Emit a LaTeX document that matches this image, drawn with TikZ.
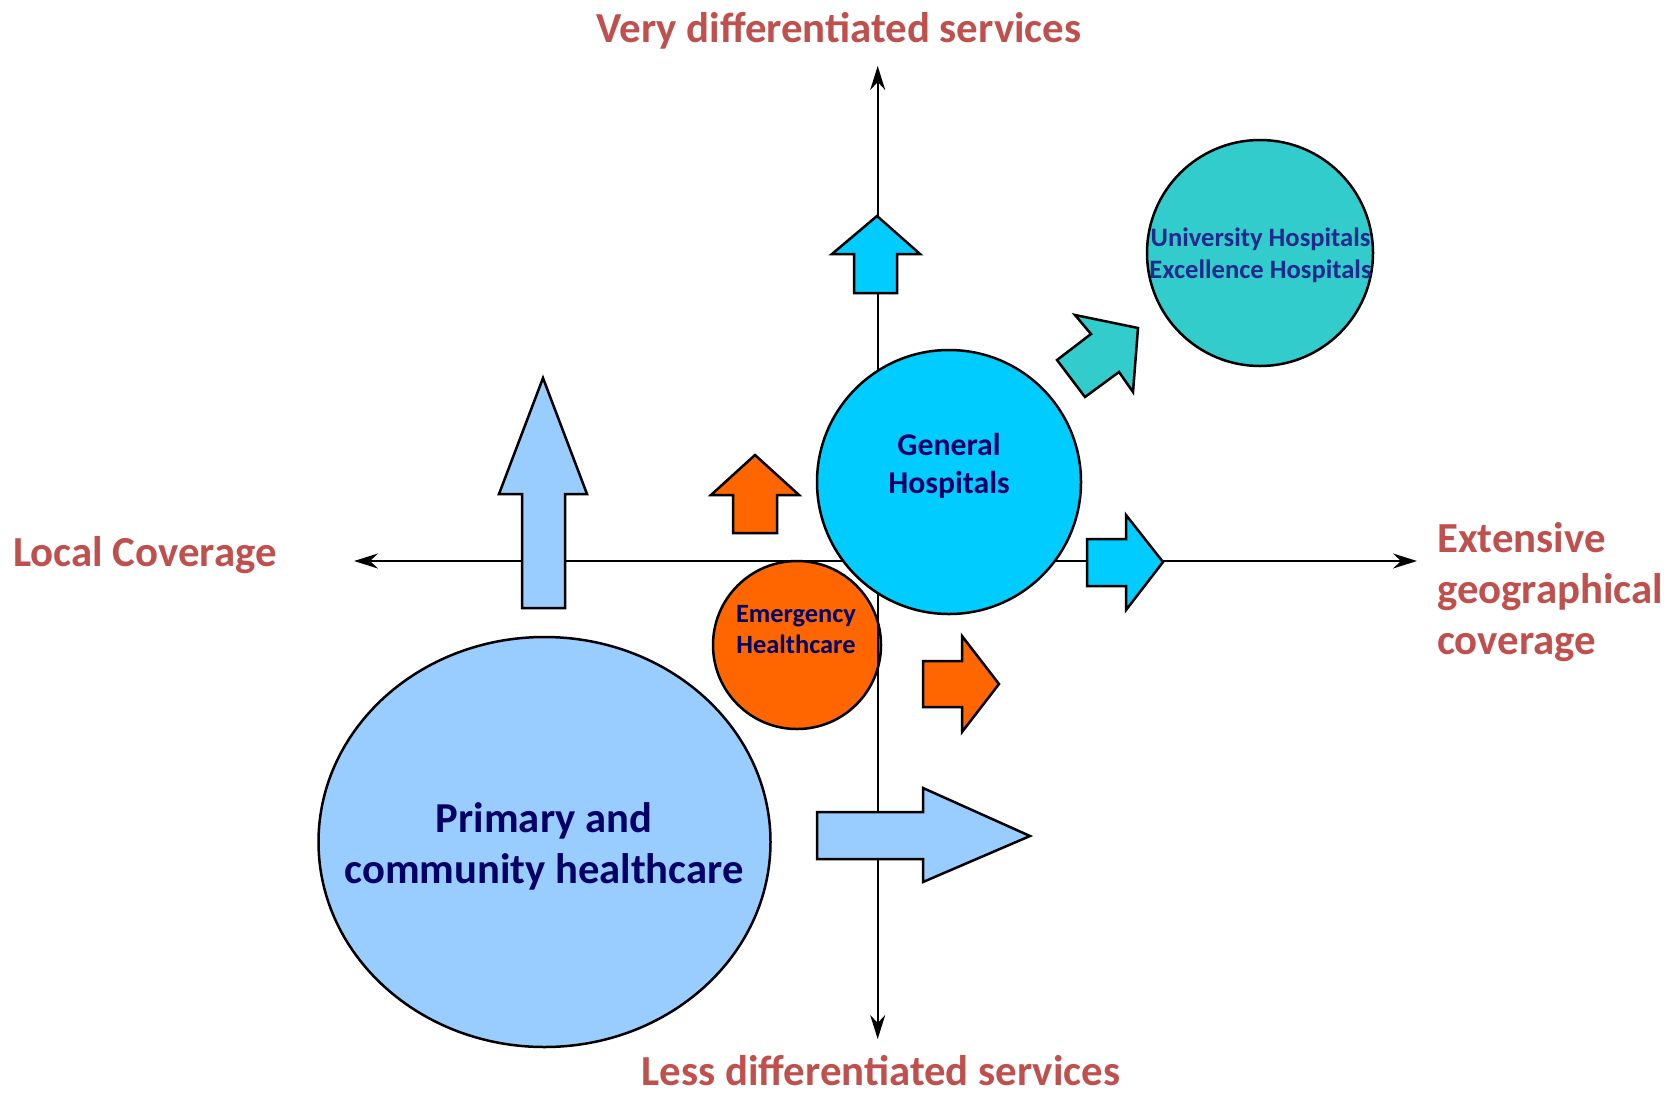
\documentclass[tikz,border=0pt]{standalone}
\usepackage{fontspec}
\setmainfont{Carlito}
\usetikzlibrary{shapes.geometric,arrows.meta}
\definecolor{lblue}{HTML}{99CCFF}
\definecolor{cyanb}{HTML}{00CCFF}
\definecolor{orng}{HTML}{FF6600}
\definecolor{tealb}{HTML}{33CCCC}
\definecolor{labred}{HTML}{C0504D}
\definecolor{navytxt}{HTML}{000066}
\definecolor{unitxt}{HTML}{1F2A8C}
\tikzstyle{spot}=[draw,circle,line width=2.5bp,inner sep=0pt]
\tikzstyle{blockarr}=[draw,line width=2.5bp,line join=miter]
\tikzstyle{axis}=[line width=2bp,{Stealth[length=24bp,width=15bp,inset=8bp]}-{Stealth[length=24bp,width=15bp,inset=8bp]}]
\tikzstyle{lab}=[text=labred,inner sep=0pt,font=\bfseries\fontsize{43}{51}\selectfont]
\tikzstyle{intxt}=[text=navytxt,align=center,inner sep=0pt]

\begin{document}
\begin{tikzpicture}[x=1bp, y=-1bp]
  \useasboundingbox (0,0) rectangle (1666,1094);

  \node[spot, fill=orng, minimum size=168bp] (emer) at (797,645) {};

  \coordinate (top) at (877.7,66);
  \coordinate (bot) at (877.7,1039);
  \coordinate (lft) at (354,561);
  \coordinate (rgt) at (1417,561);
  \draw[axis] (bot) -- (top);
  \draw[axis] (lft) -- (rgt);

  \node[spot, fill=cyanb, minimum size=264bp] (gen) at (949,482) {};
  \node[spot, fill=tealb, minimum size=226bp] (uni) at (1260,253) {};
  \node[spot, ellipse, fill=lblue, minimum width=452bp, minimum height=410bp] (prim) at (544.5,842) {};

  \draw[blockarr, fill=lblue] (543,378) -- (587,494) -- (565,494) -- (565,608) -- (522,608) -- (522,494) -- (499,494) -- cycle;
  \draw[blockarr, fill=orng] (755,455) -- (799,495) -- (777,495) -- (777,533) -- (733,533) -- (733,495) -- (711,495) -- cycle;
  \draw[blockarr, fill=cyanb] (877,216) -- (920,254) -- (897,254) -- (897,293) -- (854,293) -- (854,254) -- (832,254) -- cycle;
  \draw[blockarr, fill=cyanb] (1163,562) -- (1126,610) -- (1126,586) -- (1087,586) -- (1087,539) -- (1126,539) -- (1126,515) -- cycle;
  \draw[blockarr, fill=orng] (999,684) -- (962,732) -- (962,707) -- (923,707) -- (923,661) -- (962,661) -- (962,636) -- cycle;
  \draw[blockarr, fill=lblue] (1030,836) -- (923,882) -- (923,859) -- (817,859) -- (817,812) -- (923,812) -- (923,788) -- cycle;
  \draw[blockarr, fill=tealb] (1138,328) -- (1133,392) -- (1119,372) -- (1085,397) -- (1057,360) -- (1091,334) -- (1075,315) -- cycle;

  \node[intxt, anchor=base, font=\bfseries\fontsize{42.8}{51}\selectfont] (primtxt) at (544,883) {Primary and\\community healthcare};
  \node[intxt, anchor=base, font=\bfseries\fontsize{31.8}{38}\selectfont] (gentxt) at (949,493) {General\\Hospitals};
  \node[intxt, anchor=base, font=\bfseries\fontsize{26.5}{31}\selectfont] (emertxt) at (796,653) {Emergency\\Healthcare};
  \node[intxt, text=unitxt, anchor=base, font=\bfseries\fontsize{26.7}{32}\selectfont] (unitxt) at (1260.5,278.5) {University Hospitals\\Excellence Hospitals};

  \node[lab, anchor=base] (vd) at (839,42) {Very differentiated services};
  \node[lab, anchor=base] (ld) at (881,1085) {Less differentiated services};
  \node[lab, anchor=base west] (lc) at (13,566) {Local Coverage};
  \node[lab, anchor=base west, align=left] (eg) at (1437,654) {Extensive\\geographical\\coverage};
\end{tikzpicture}
\end{document}
